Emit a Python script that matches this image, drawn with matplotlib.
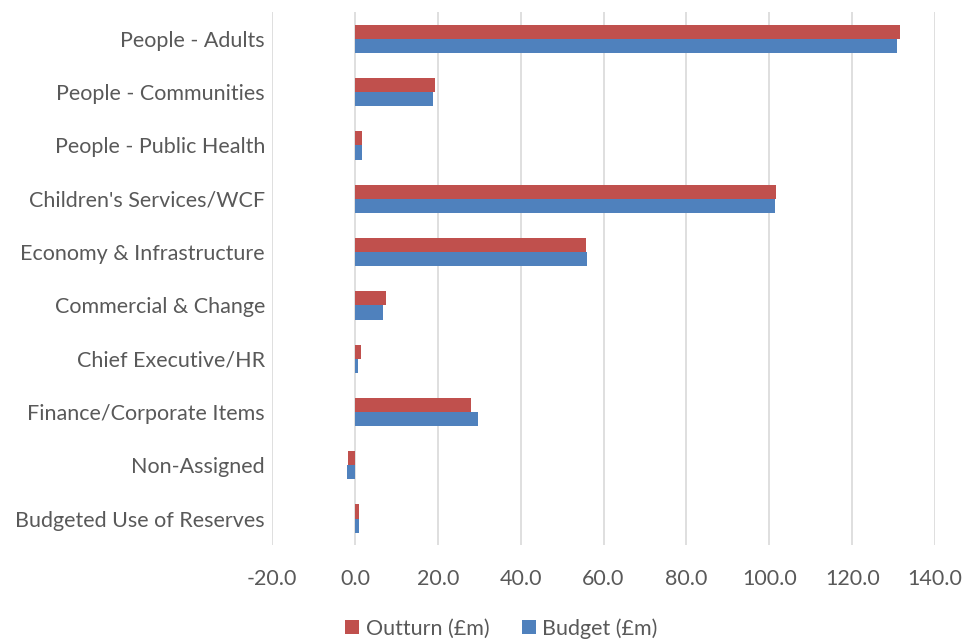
import numpy as np
import matplotlib.pyplot as plt

categories = ['People - Adults', 'People - Communities', 'People - Public Health',
              "Children's Services/WCF", 'Economy & Infrastructure', 'Commercial & Change',
              'Chief Executive/HR', 'Finance/Corporate Items', 'Non-Assigned',
              'Budgeted Use of Reserves']
outturn = [131.6, 19.4, 1.6, 101.6, 55.8, 7.5, 1.4, 28.0, -1.7, 1.0]
budget = [130.8, 18.8, 1.8, 101.4, 56.0, 6.8, 0.8, 29.6, -1.9, 1.1]
xticks = [-20, 0, 20, 40, 60, 80, 100, 120, 140]

plt.rcParams['font.family'] = ['Lato', 'DejaVu Sans']
text_col = '#595959'

fig = plt.figure(figsize=(9.66, 6.4), dpi=100)
ax = fig.add_axes([0.2816, 0.148, 0.6864, 0.833])

y = np.arange(len(categories))
h = 0.265
ax.barh(y - h / 2, outturn, height=h, color='#C0504D', label='Outturn (£m)', zorder=3)
ax.barh(y + h / 2, budget, height=h, color='#4F81BD', label='Budget (£m)', zorder=3)

ax.set_xlim(-20, 140)
ax.set_ylim(len(categories) - 0.5, -0.5)
ax.set_xticks(xticks)
ax.set_xticklabels(['%.1f' % v for v in xticks])
ax.set_yticks(y)
ax.set_yticklabels(categories)
ax.tick_params(axis='both', length=0, labelsize=15.5, colors=text_col)
ax.tick_params(axis='x', pad=17)
ax.tick_params(axis='y', pad=5)
ax.grid(axis='x', color='#d9d9d9', linewidth=1.2, zorder=0)
for s in ax.spines.values():
    s.set_visible(False)

fig.legend(loc='center', bbox_to_anchor=(0.519, 0.018), ncol=2, frameon=False,
           fontsize=15.5, handlelength=0.65, handleheight=0.65, handletextpad=0.3,
           columnspacing=1.5, labelcolor=text_col)

fig.savefig('out.png', dpi=100)
